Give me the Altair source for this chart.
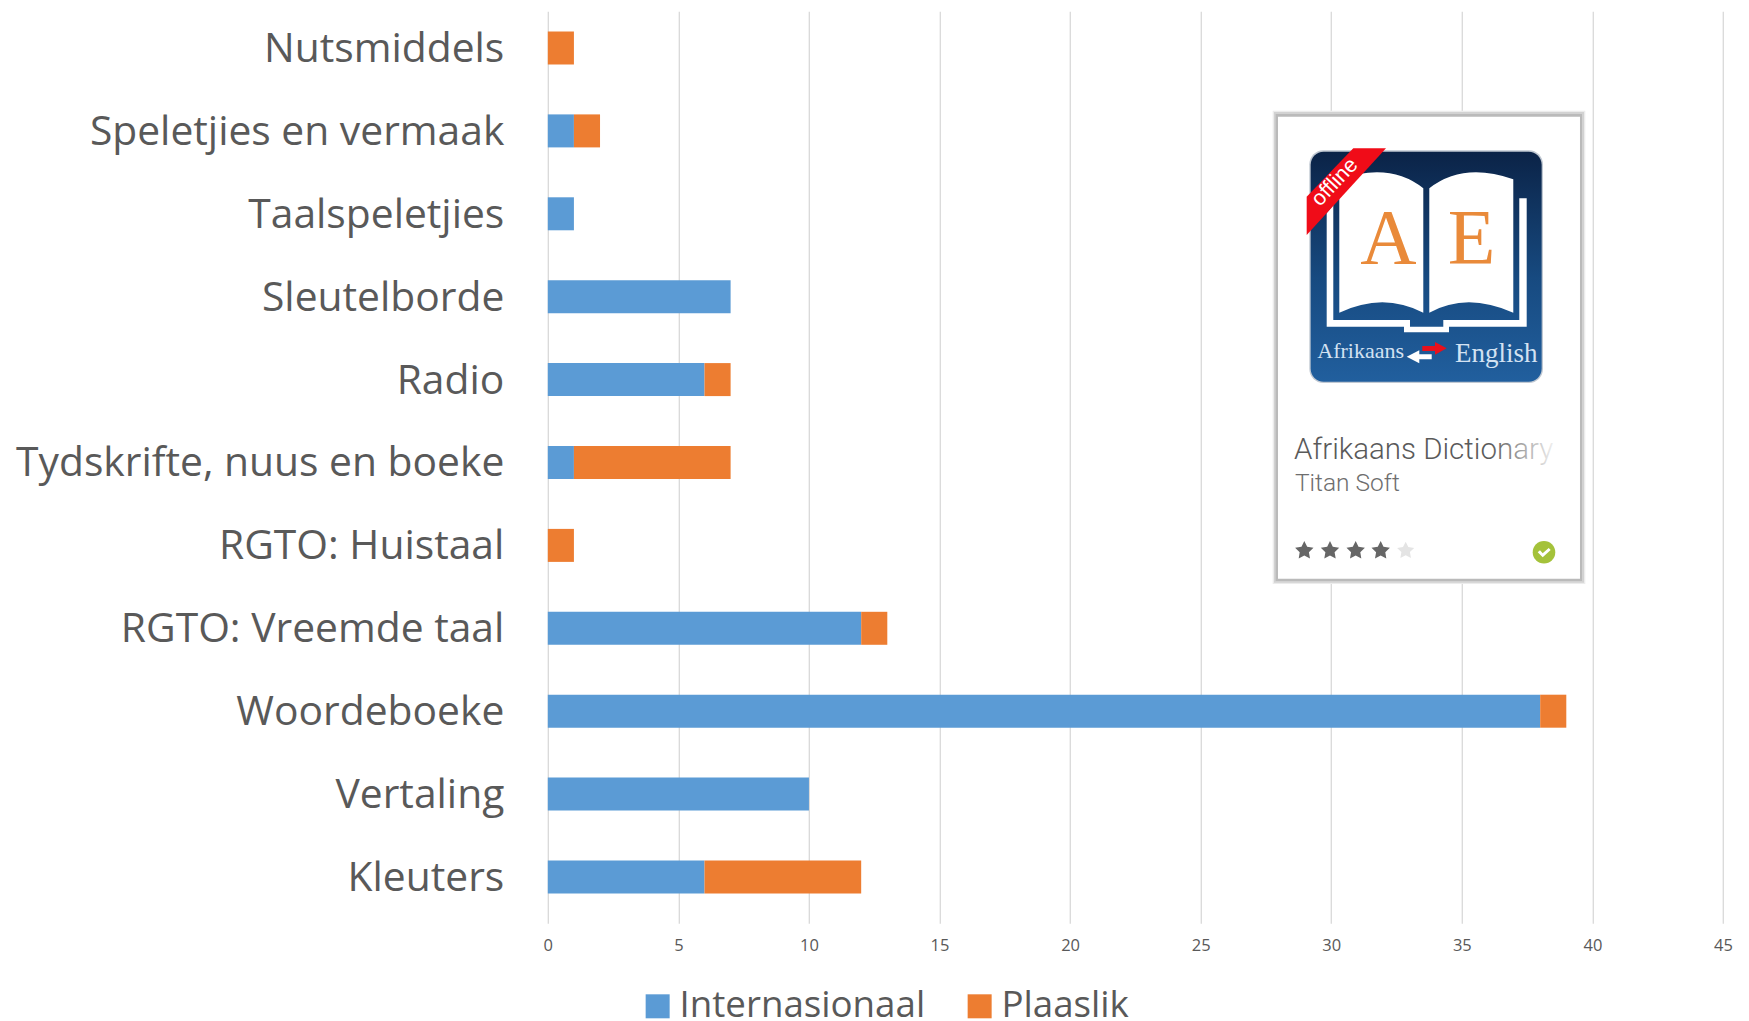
import math
import altair as alt
import pandas as pd

categories = ["Nutsmiddels", "Speletjies en vermaak", "Taalspeletjies", "Sleutelborde", "Radio",
              "Tydskrifte, nuus en boeke", "RGTO: Huistaal", "RGTO: Vreemde taal", "Woordeboeke",
              "Vertaling", "Kleuters"]
internasionaal = [0, 1, 1, 7, 6, 1, 0, 12, 38, 10, 6]
plaaslik = [1, 1, 0, 0, 1, 6, 1, 1, 1, 0, 6]
series_names = ["Internasionaal", "Plaaslik"]
series_colors = ["#5b9bd5", "#ed7d31"]

rows = []
for c, a, b in zip(categories, internasionaal, plaaslik):
    rows.append({"cat": c, "series": series_names[0], "value": a, "ord": 0})
    rows.append({"cat": c, "series": series_names[1], "value": b, "ord": 1})
df = pd.DataFrame(rows)

X0, Y0 = 547.8, 8.0
PW, PH = 1175.2, 913.7
FONT = "Open Sans"
TXT = "#595959"

bars = alt.Chart(df[df.value > 0]).mark_bar(size=33).encode(
    y=alt.Y("cat:N", sort=categories, title=None,
            scale=alt.Scale(domain=categories, range=[-1.45, 910.45], paddingInner=0, paddingOuter=0),
            axis=alt.Axis(labelFont=FONT, labelFontSize=40.8, labelColor=TXT, labelPadding=44, ticks=False,
                          labelOffset=2, domain=False, grid=False, labelLimit=600)),
    x=alt.X("sum(value):Q", stack="zero", title=None,
            scale=alt.Scale(domain=[0, 45], nice=False),
            axis=alt.Axis(values=list(range(0, 50, 5)), labelFont=FONT, labelFontSize=16.5, labelColor=TXT,
                          labelPadding=16, ticks=False, domain=False, grid=True, gridColor="#d9d9d9",
                          gridWidth=1.3, labelFlush=False)),
    color=alt.Color("series:N", scale=alt.Scale(domain=series_names, range=series_colors), title=None,
                    legend=alt.Legend(orient="none", legendX=91.5, legendY=979.5, direction="horizontal",
                                      symbolType="square", symbolSize=576, symbolStrokeWidth=0,
                                      labelFont=FONT, labelFontSize=36.7, labelColor=TXT, labelOffset=3.5,
                                      columnPadding=36, labelLimit=400)),
    order=alt.Order("ord:Q"),
)

one = alt.Data(values=[{"a": 1}])

# The inset picture is an illustration: its geometry is given in pixels of the picture.
def px(zx, zy):
    return (1260 + zx / 3 - X0, 100 + zy / 3 - Y0)

def poly(pts, close=True):
    s = ""
    for i, p in enumerate(pts):
        x, y = px(*p)
        s += ("M" if i == 0 else "L") + f"{x:.1f},{y:.1f}"
    return s + ("Z" if close else "")

def shape(path, color, opacity=1):
    return alt.Chart(one).mark_point(shape=path, size=4, filled=True, color=color, opacity=opacity,
                                     strokeWidth=0).encode(x=alt.value(0), y=alt.value(0))

def rect(x1, y1, x2, y2, color, radius=0, opacity=1):
    ax, ay = px(x1, y1)
    bx, by = px(x2, y2)
    return alt.Chart(one).mark_rect(color=color, cornerRadius=radius, opacity=opacity).encode(
        x=alt.value(ax), x2=alt.value(bx), y=alt.value(ay), y2=alt.value(by))

def text(s, zx, zy, size, color, font, angle=0, align="left", weight="normal", opacity=1):
    x, y = px(zx, zy)
    return alt.Chart(one).mark_text(text=s, font=font, fontSize=size, color=color, align=align,
                                    baseline="alphabetic", angle=angle, fontWeight=weight, opacity=opacity).encode(
        x=alt.value(x), y=alt.value(y))

def star(cx, cy, r):
    pts = []
    for i in range(10):
        a = -math.pi / 2 + i * math.pi / 5
        rr = r if i % 2 == 0 else r * 0.5
        pts.append((cx + rr * math.cos(a), cy + rr * math.sin(a)))
    return poly(pts)

def curve(d):
    out = ""
    for cmd, pts in d:
        out += cmd + " ".join("{:.1f},{:.1f}".format(*px(*p)) for p in pts)
    return out

icon_grad = alt.Gradient(gradient="linear", x1=0, x2=0, y1=0, y2=1,
                         stops=[alt.GradientStop(offset=0, color="#0b2347"),
                                alt.GradientStop(offset=0.55, color="#174a80"),
                                alt.GradientStop(offset=1, color="#215f9e")])
fade = alt.Gradient(gradient="linear", x1=0, x2=1, y1=0, y2=0,
                    stops=[alt.GradientStop(offset=0, color="rgba(255,255,255,0)"),
                           alt.GradientStop(offset=1, color="rgba(255,255,255,1)")])

left_page = curve([("M", [(238, 238)]), ("Q", [(390, 185), (490, 265)]), ("L", [(490, 638)]),
                   ("Q", [(370, 575), (238, 638)]), ("Z", [])])
right_page = curve([("M", [(508, 265)]), ("Q", [(610, 185), (760, 238)]), ("L", [(760, 638)]),
                    ("Q", [(620, 575), (508, 638)]), ("Z", [])])
cover = poly([(200, 340), (220, 315), (220, 660), (450, 660), (450, 680), (550, 680), (550, 660), (778, 660),
              (778, 295), (800, 295), (800, 680), (567, 680), (567, 697), (432, 697), (432, 680), (200, 680)])
ribbon = poly([(280, 145), (378, 145), (140, 405), (140, 290)])
red_arrow = poly([(487, 738), (525, 738), (525, 726), (560, 745), (525, 764), (525, 753), (487, 753)])
white_arrow = poly([(515, 763), (478, 763), (478, 751), (440, 770), (478, 790), (478, 778), (515, 778)])
check = poly([(833, 1357), (840, 1351), (848, 1360), (866, 1344), (872, 1350), (848, 1372)])

inset = [
    rect(38, 32, 976, 1452, "#ececec"),
    rect(42, 36, 972, 1448, "#d2d2d2"),
    rect(47, 42, 966, 1443, "#bababa"),
    rect(54, 50, 960, 1436, "#ffffff"),
    rect(148, 151, 849, 849, "#c0c8d2", radius=14),
    rect(152, 155, 845, 845, icon_grad, radius=13),
    shape(left_page, "#ffffff"),
    shape(right_page, "#ffffff"),
    shape(cover, "#ffffff"),
    shape(ribbon, "#f00c18"),
    text("offline", 180, 322, 21.5, "#ffffff", "Liberation Sans", angle=313),
    text("A", 385, 490, 78, "#e98a3a", "Liberation Serif", align="center"),
    text("E", 635, 490, 78, "#e98a3a", "Liberation Serif", align="center"),
    text("Afrikaans", 172, 775, 22, "#d3e2f2", "Liberation Serif"),
    text("English", 585, 785, 27, "#d3e2f2", "Liberation Serif"),
    shape(red_arrow, "#e8101c"),
    shape(white_arrow, "#ffffff"),
    text("Afrikaans Dictionary", 102, 1078, 29.5, "#5a5a5a", "Roboto", weight=300),
    rect(690, 1000, 900, 1110, fade),
    text("Titan Soft", 105, 1172, 24.5, "#6e6e6e", "Roboto", weight=300),
]
for cx in (133, 210, 287, 362):
    inset.append(shape(star(cx, 1352, 29), "#666666"))
inset.append(shape(star(437, 1352, 27), "#e4e4e4"))
gx, gy = px(852, 1357)
inset.append(alt.Chart(one).mark_point(shape="circle", size=510, filled=True, color="#a4c23a", opacity=1,
                                       strokeWidth=0).encode(x=alt.value(gx), y=alt.value(gy)))
inset.append(shape(check, "#ffffff"))

chart = alt.layer(bars, *inset).properties(
    width=PW, height=PH,
    padding={"left": X0 - 8, "top": 0, "right": 18, "bottom": 100},
    autosize=alt.AutoSizeParams(type="none"),
    background="#ffffff",
).configure_view(stroke=None)

chart.save("out.html", embed_options={"renderer": "svg", "actions": False})
